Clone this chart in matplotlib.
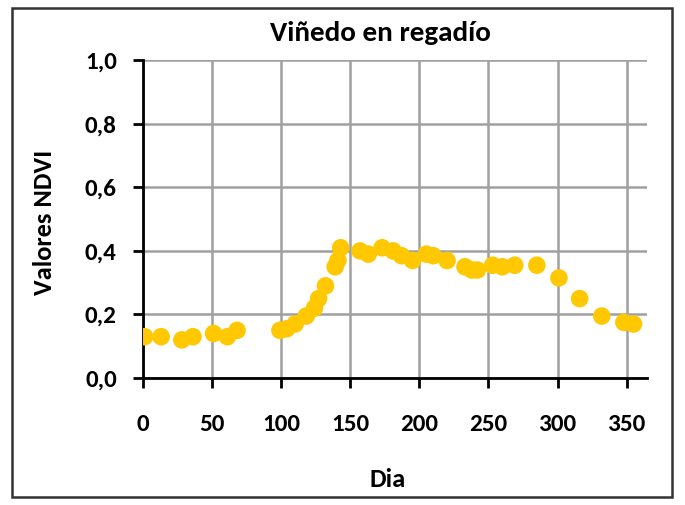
import matplotlib.pyplot as plt
from matplotlib.patches import Rectangle

# Día del año y valores NDVI
dia = [1, 13, 28, 36, 51, 61, 68, 99, 104, 110, 118, 124, 127, 132, 139, 141, 143,
       157, 163, 173, 181, 187, 195, 205, 210, 220, 233, 238, 242, 253, 260, 269,
       285, 301, 316, 332, 348, 355]
ndvi = [0.13, 0.13, 0.12, 0.13, 0.14, 0.13, 0.15, 0.15, 0.155, 0.17, 0.195, 0.22,
        0.25, 0.29, 0.35, 0.37, 0.41,
        0.40, 0.39, 0.41, 0.40, 0.385, 0.37, 0.39, 0.385, 0.37, 0.35, 0.34,
        0.34, 0.355, 0.35, 0.355, 0.355, 0.315, 0.25, 0.195, 0.175, 0.17]

xticks = [0, 50, 100, 150, 200, 250, 300, 350]
yticks = [0.0, 0.2, 0.4, 0.6, 0.8, 1.0]
ylabels = ['0,0', '0,2', '0,4', '0,6', '0,8', '1,0']

plt.rcParams['font.family'] = ['Carlito', 'Liberation Sans', 'DejaVu Sans']

fig = plt.figure(figsize=(6.85, 5.05), dpi=100)
ax = fig.add_axes([0.209, 0.2515, 0.736, 0.629])

# marco exterior
fig.patches.append(Rectangle((0.0175, 0.016), 0.9635, 0.968, transform=fig.transFigure,
                             fill=False, edgecolor='#333333', linewidth=1.8))

ax.scatter(dia, ndvi, s=160, color='#FFC800', edgecolors='none', zorder=3)

ax.set_xlim(0, 365)
ax.set_ylim(0, 1.0)
ax.set_xticks(xticks)
ax.set_yticks(yticks)
ax.set_yticklabels(ylabels)
ax.grid(True, color='#a0a0a0', linewidth=1.8)
ax.set_axisbelow(True)

for s in ['top', 'right']:
    ax.spines[s].set_visible(False)
ax.spines['left'].set_linewidth(2)
ax.spines['bottom'].set_linewidth(2)

ax.tick_params(axis='both', direction='out', length=7, width=2, labelsize=18)
ax.tick_params(axis='x', pad=19)
ax.tick_params(axis='y', pad=12)
for lbl in ax.get_xticklabels() + ax.get_yticklabels():
    lbl.set_fontweight('bold')

ax.text(0.47, 1.085, 'Viñedo en regadío', transform=ax.transAxes, ha='center',
        va='center', fontsize=21, fontweight='bold')
ax.set_xlabel('Dia', fontsize=19, fontweight='bold')
ax.xaxis.set_label_coords(0.484, -0.283)
ax.set_ylabel('Valores NDVI', fontsize=19, fontweight='bold')
ax.yaxis.set_label_coords(-0.172, 0.49)

fig.savefig('out.png', dpi=100)
